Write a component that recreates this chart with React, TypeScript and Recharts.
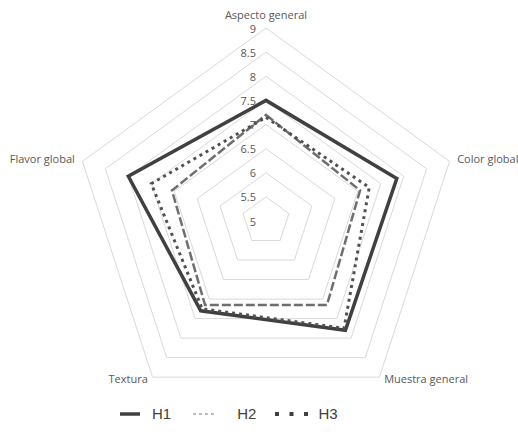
import React from 'react';
import { RadarChart, Radar, PolarGrid, PolarAngleAxis, PolarRadiusAxis, Legend } from 'recharts';

// values
const categories = ['Aspecto general', 'Color global', 'Muestra general', 'Textura', 'Flavor global'];
const h1 = [7.5, 7.85, 7.8, 7.3, 8.0];
const h2 = [7.2, 7.05, 7.15, 7.15, 7.05];
const h3 = [7.15, 7.25, 7.75, 7.25, 7.5];
const radiusTicks = [5, 5.5, 6, 6.5, 7, 7.5, 8, 8.5, 9];

const data = categories.map((name, i) => ({ name, H1: h1[i], H2: h2[i], H3: h3[i] }));

const labelFont = '"Open Sans", "Liberation Sans", sans-serif';

const AngleTick = (props: any) => {
  const { x, y, textAnchor, payload } = props;
  // Excel keeps the lower labels level with their vertex
  let dy = 0;
  if (textAnchor === 'middle') dy = -6;
  else if (y > 300) dy = -5;
  return (
    <text x={x} y={y + dy} textAnchor={textAnchor} dominantBaseline="central"
      fontSize={11} fontFamily={labelFont} fill="#595959">
      {payload.value}
    </text>
  );
};

const RadiusTick = (props: any) => {
  const { x, y, payload } = props;
  return (
    <text x={x - 10} y={y} textAnchor="end" dominantBaseline="central"
      fontSize={11} fontFamily={labelFont} fill="#595959">
      {payload.value}
    </text>
  );
};

const LegendBox = () => (
  <div style={{ display: 'flex', alignItems: 'center', paddingLeft: 119, fontFamily: '"Liberation Sans", Arial, sans-serif', fontSize: 15, color: '#404040' }}>
    <svg width={21} height={10}><line x1={1} y1={5} x2={21} y2={5} stroke="#404040" strokeWidth={3.5} /></svg>
    <span style={{ marginLeft: 12, marginRight: 22 }}>H1</span>
    <svg width={22} height={10}><line x1={0} y1={5} x2={22} y2={5} stroke="#a6a6a6" strokeWidth={1.5} strokeDasharray="3 3" /></svg>
    <span style={{ marginLeft: 22, marginRight: 19 }}>H2</span>
    <svg width={34} height={10}><line x1={0} y1={5} x2={34} y2={5} stroke="#404040" strokeWidth={4} strokeDasharray="4 10.5" /></svg>
    <span style={{ marginLeft: 9 }}>H3</span>
  </div>
);

export default function App() {
  return (
    <div style={{ position: 'absolute', left: 0, top: 0, background: '#fff' }}>
      <RadarChart width={518} height={436} data={data} cx={266} cy={221} outerRadius={193}
        startAngle={90} endAngle={-270}>
        <PolarGrid stroke="#d9d9d9" radialLines={false} />
        <PolarAngleAxis dataKey="name" tick={AngleTick} tickLine={false} axisLine={false} />
        <PolarRadiusAxis angle={90} domain={[5, 9]} ticks={radiusTicks as any} tickCount={radiusTicks.length}
          tick={RadiusTick} axisLine={false} tickLine={false} />
        <Radar name="H1" dataKey="H1" stroke="#404040" strokeWidth={3.5} fill="none"
          dot={false} isAnimationActive={false} />
        <Radar name="H2" dataKey="H2" stroke="#6e6e6e" strokeWidth={2.5} strokeDasharray="9 3" fill="none"
          dot={false} isAnimationActive={false} />
        <Radar name="H3" dataKey="H3" stroke="#505050" strokeWidth={3} strokeDasharray="3 4" fill="none"
          dot={false} isAnimationActive={false} />
        <Legend content={LegendBox} wrapperStyle={{ left: 0, top: 405, width: 518 }} />
      </RadarChart>
    </div>
  );
}
